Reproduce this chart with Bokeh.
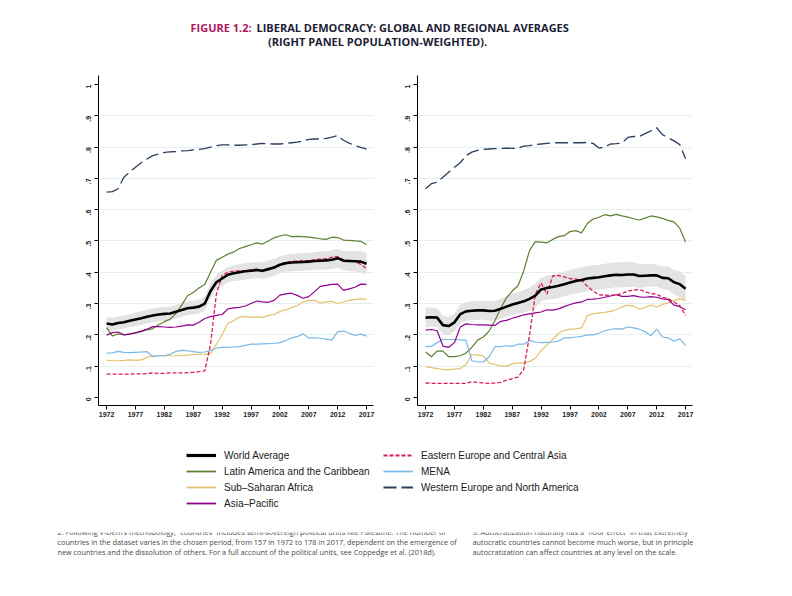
import math
from bokeh.plotting import figure
from bokeh.models import Range1d, FixedTicker, Legend, LegendItem, Label
from bokeh.layouts import column, row
from bokeh.embed import file_html
from bokeh.resources import INLINE

# ---- data -------------------------------------------------------------
years = list(range(1972, 2018))
x_ticks = list(range(1972, 2018, 5))
y_ticks = [0, 0.1, 0.2, 0.3, 0.4, 0.5, 0.6, 0.7, 0.8, 0.9, 1]
y_tick_labels = {0: "0", 0.1: ".1", 0.2: ".2", 0.3: ".3", 0.4: ".4", 0.5: ".5",
                 0.6: ".6", 0.7: ".7", 0.8: ".8", 0.9: ".9", 1: "1"}
grid_ticks = [0.1, 0.2, 0.3, 0.4, 0.5, 0.6, 0.7, 0.8, 0.9]

# left panel: simple averages
world_left = [.236, .233, .238, .240, .245, .249, .253, .258, .262, .265,
              .267, .268, .274, .279, .285, .287, .290, .300, .340, .368,
              .380, .392, .397, .400, .403, .405, .407, .405, .410, .415,
              .424, .429, .431, .432, .433, .434, .436, .437, .438, .440,
              .445, .437, .436, .435, .434, .427]
world_ci_left = [.021, .021, .021, .021, .021, .022, .022, .022, .022, .022,
                 .022, .022, .022, .022, .022, .022, .022, .022, .023, .024,
                 .025, .025, .025, .026, .026, .026, .026, .026, .027, .027,
                 .027, .027, .028, .028, .028, .028, .028, .029, .029, .030,
                 .030, .031, .032, .033, .034, .035]
latam_left = [.223, .196, .203, .200, .203, .206, .210, .216, .220, .232,
              .242, .250, .268, .295, .325, .335, .350, .362, .400, .438,
              .448, .458, .465, .476, .482, .488, .494, .490, .500, .510,
              .516, .520, .514, .515, .514, .512, .510, .507, .505, .512,
              .511, .503, .502, .500, .499, .488]
ssa_left = [.119, .117, .117, .118, .120, .118, .120, .128, .133, .133,
            .133, .133, .133, .133, .135, .137, .137, .138, .140, .170,
            .200, .236, .245, .257, .258, .256, .258, .255, .262, .265,
            .275, .280, .287, .293, .305, .310, .310, .302, .305, .307,
            .300, .305, .310, .313, .315, .313]
asia_left = [.199, .207, .209, .200, .202, .206, .212, .218, .226, .226,
             .225, .224, .225, .228, .232, .231, .240, .252, .258, .262,
             .265, .283, .286, .288, .292, .300, .308, .305, .304, .310,
             .327, .331, .333, .326, .317, .322, .338, .355, .358, .361,
             .362, .342, .347, .352, .362, .361]
eeca_left = [.074, .074, .074, .074, .074, .075, .075, .076, .078, .077,
             .077, .078, .078, .078, .079, .080, .082, .085, .170, .330,
             .390, .400, .403, .405, .405, .408, .410, .402, .410, .418,
             .425, .432, .434, .436, .437, .437, .440, .442, .443, .448,
             .450, .440, .437, .435, .425, .412]
mena_left = [.141, .142, .147, .144, .143, .144, .145, .146, .130, .133,
             .133, .138, .147, .150, .149, .146, .144, .145, .150, .157,
             .160, .160, .161, .162, .166, .170, .170, .171, .172, .173,
             .175, .182, .190, .194, .203, .190, .190, .189, .186, .183,
             .210, .212, .205, .198, .202, .196]
wena_left = [.656, .658, .667, .704, .720, .736, .750, .762, .773, .778,
             .783, .785, .786, .788, .789, .791, .793, .795, .800, .805,
             .807, .807, .806, .806, .807, .808, .810, .812, .811, .810,
             .810, .812, .814, .816, .820, .825, .826, .826, .828, .832,
             .837, .822, .813, .805, .799, .794]

# right panel: population-weighted averages
world_right = [.255, .256, .255, .231, .228, .240, .266, .275, .277, .278,
               .278, .276, .277, .283, .290, .297, .302, .307, .315, .325,
               .345, .350, .353, .357, .362, .367, .372, .375, .380, .382,
               .384, .387, .390, .392, .391, .393, .393, .388, .389, .390,
               .390, .382, .381, .368, .362, .347]
world_ci_right = [.032, .031, .030, .030, .029, .029, .030, .030, .030, .030,
                  .030, .031, .031, .032, .033, .034, .035, .036, .037, .038,
                  .038, .038, .039, .039, .039, .040, .040, .040, .040, .040,
                  .040, .040, .040, .040, .040, .040, .039, .038, .037, .036,
                  .035, .036, .037, .039, .040, .042]
latam_right = [.145, .130, .148, .148, .130, .130, .133, .142, .160, .183,
               .193, .212, .245, .285, .318, .340, .357, .405, .470, .498,
               .496, .494, .505, .514, .517, .530, .533, .526, .556, .570,
               .576, .584, .580, .585, .580, .576, .571, .567, .573, .580,
               .577, .572, .566, .561, .540, .497]
ssa_right = [.098, .095, .092, .089, .089, .090, .092, .105, .137, .135,
             .133, .110, .105, .100, .100, .107, .110, .110, .115, .125,
             .150, .168, .185, .205, .214, .218, .219, .222, .262, .267,
             .270, .272, .275, .280, .290, .294, .292, .282, .288, .295,
             .289, .297, .302, .310, .315, .310]
asia_right = [.215, .217, .213, .164, .160, .175, .225, .235, .233, .232,
              .232, .231, .230, .243, .246, .253, .258, .264, .267, .270,
              .273, .280, .279, .283, .290, .297, .302, .305, .313, .314,
              .316, .320, .324, .328, .323, .323, .325, .321, .320, .322,
              .320, .315, .313, .295, .290, .280]
eeca_right = [.046, .045, .045, .045, .045, .045, .045, .045, .050, .048,
              .046, .045, .046, .048, .055, .060, .065, .090, .200, .330,
              .366, .330, .388, .390, .385, .380, .378, .375, .355, .340,
              .328, .327, .326, .328, .332, .340, .343, .345, .338, .332,
              .330, .320, .315, .305, .293, .262]
mena_right = [.162, .163, .175, .185, .185, .185, .184, .182, .117, .113,
              .113, .130, .162, .162, .165, .163, .170, .170, .182, .177,
              .175, .176, .177, .180, .190, .190, .193, .195, .200, .200,
              .205, .213, .217, .220, .218, .225, .222, .218, .210, .197,
              .218, .193, .190, .180, .187, .166]
wena_right = [.667, .683, .688, .704, .720, .736, .750, .773, .784, .790,
              .793, .794, .795, .796, .797, .796, .797, .803, .805, .808,
              .810, .812, .814, .814, .814, .814, .814, .814, .815, .812,
              .797, .800, .810, .811, .813, .831, .834, .834, .843, .852,
              .862, .840, .830, .820, .808, .763]

region_names = ["World Average", "Latin America and the Caribbean",
                "Sub\u2013Saharan Africa", "Asia\u2013Pacific",
                "Eastern Europe and Central Asia", "MENA",
                "Western Europe and North America"]

# ---- styles -----------------------------------------------------------
styles = {
    "World Average": dict(color="black", width=2.6, dash="solid"),
    "Latin America and the Caribbean": dict(color="#5d7f35", width=1.2, dash="solid"),
    "Sub\u2013Saharan Africa": dict(color="#e2c26c", width=1.2, dash="solid"),
    "Asia\u2013Pacific": dict(color="#92008f", width=1.2, dash="solid"),
    "Eastern Europe and Central Asia": dict(color="#d81e4f", width=1.3, dash="4 2"),
    "MENA": dict(color="#7ab8e6", width=1.2, dash="solid"),
    "Western Europe and North America": dict(color="#2c3d5e", width=1.3, dash="13 5"),
}
TICK_FONT = "Liberation Sans"


def make_panel(world, ci, latam, ssa, asia, eeca, mena, wena, width, border_left, border_right):
    """
    Build one panel with the world band and the regional lines.
    """
    p = figure(width=width, height=370, toolbar_location=None, output_backend="svg",
               x_range=Range1d(1970.6, 2018.2), y_range=Range1d(-0.026, 1.029),
               min_border_left=border_left, min_border_right=border_right,
               min_border_top=20, min_border_bottom=20)
    p.outline_line_color = None
    p.background_fill_color = "white"

    # grid only on the inner y ticks
    p.xgrid.visible = False
    p.ygrid.ticker = FixedTicker(ticks=grid_ticks)
    p.ygrid.grid_line_color = "#e6eef0"
    p.ygrid.grid_line_width = 1

    for ax in (p.xaxis, p.yaxis):
        ax.axis_line_color = "black"
        ax.major_tick_line_color = "black"
        ax.major_tick_in = 0
        ax.major_tick_out = 4
        ax.minor_tick_line_color = None
        ax.major_label_text_font = TICK_FONT
        ax.major_label_text_font_size = "7px"
        ax.major_label_text_font_style = "bold"
        ax.major_label_text_color = "#222222"
    p.xaxis.major_label_standoff = 2
    p.yaxis.major_label_standoff = 6

    p.xaxis.ticker = FixedTicker(ticks=x_ticks)
    p.yaxis.ticker = FixedTicker(ticks=y_ticks)
    p.yaxis.major_label_overrides = y_tick_labels
    p.yaxis.major_label_orientation = math.pi / 2

    # confidence band of the world average
    lo = [w - c for w, c in zip(world, ci)]
    hi = [w + c for w, c in zip(world, ci)]
    p.varea(x=years, y1=lo, y2=hi, fill_color="#e3e3e3")

    order = [("Western Europe and North America", wena),
             ("Latin America and the Caribbean", latam),
             ("Sub\u2013Saharan Africa", ssa),
             ("MENA", mena),
             ("Asia\u2013Pacific", asia),
             ("Eastern Europe and Central Asia", eeca),
             ("World Average", world)]
    for name, vals in order:
        s = styles[name]
        p.line(years, vals, line_color=s["color"], line_width=s["width"],
               line_dash=s["dash"])
    return p


def blank_figure(width, height):
    f = figure(width=width, height=height, toolbar_location=None, output_backend="svg",
               x_range=Range1d(0, width), y_range=Range1d(0, height),
               x_axis_location=None, y_axis_location=None, min_border=0)
    f.grid.visible = False
    f.outline_line_color = None
    return f


# ---- title ------------------------------------------------------------
title = blank_figure(780, 55)
title_font = "Open Sans"
title_kw = dict(x_units="screen", y_units="screen", text_font=title_font,
                text_font_style="bold", text_font_size="11px", text_baseline="middle")
title.add_layout(Label(x=190, y=28, text="FIGURE 1.2:", text_color="#b0175f", **title_kw))
title.add_layout(Label(x=256, y=28, text="LIBERAL DEMOCRACY: GLOBAL AND REGIONAL AVERAGES",
                       text_color="#1d1d35", **title_kw))
title.add_layout(Label(x=377, y=14, text="(RIGHT PANEL POPULATION-WEIGHTED).",
                       text_color="#1d1d35", text_align="center", **title_kw))

# ---- panels -----------------------------------------------------------
left = make_panel(world_left, world_ci_left, latam_left, ssa_left, asia_left,
                  eeca_left, mena_left, wena_left, 390, 98, 17)
right = make_panel(world_right, world_ci_right, latam_right, ssa_right, asia_right,
                   eeca_right, mena_right, wena_right, 390, 27, 88)

# ---- legend -----------------------------------------------------------
leg = blank_figure(780, 107)
items = {}
for name in region_names:
    s = styles[name]
    # a stub line outside the visible range, only used to draw the legend key
    r = leg.line([-60, -50], [-60, -60], line_color=s["color"],
                 line_width=s["width"] + 0.6, line_dash=s["dash"])
    items[name] = LegendItem(label=name, renderers=[r])

legend_kw = dict(orientation="vertical", glyph_width=30, glyph_height=16,
                 label_height=16, spacing=0, padding=0, margin=0, label_standoff=8,
                 border_line_color=None, background_fill_alpha=0,
                 label_text_font="Liberation Sans", label_text_font_size="10px",
                 label_text_color="#1a1a1a")
leg.add_layout(Legend(items=[items[n] for n in region_names[:4]],
                      location=(186, 21), **legend_kw))
leg.add_layout(Legend(items=[items[n] for n in region_names[4:]],
                      location=(383, 37), **legend_kw))

# ---- footnotes (top line is cut by the page) --------------------------
foot = blank_figure(780, 56)
foot_left = [
    "2. Following V-Dem\u2019s methodology, \u201ccountries\u201d includes semi-sovereign political units like Palestine. The number of",
    "countries in the dataset varies in the chosen period, from 157 in 1972 to 178 in 2017, dependent on the emergence of",
    "new countries and the dissolution of others. For a full account of the political units, see Coppedge et al. (2018d).",
]
foot_right = [
    "3. Autocratization naturally has a \u201cfloor effect\u201d in that extremely",
    "autocratic countries cannot become much worse, but in principle",
    "autocratization can affect countries at any level on the scale.",
]
for i, (tl, tr) in enumerate(zip(foot_left, foot_right)):
    y = 56.3 - 10 * i
    for x, t in ((57, tl), (472, tr)):
        foot.add_layout(Label(x=x, y=y, x_units="screen", y_units="screen", text=t,
                              text_font="Open Sans", text_font_size="7.3px",
                              text_color="#4a4a4c", text_baseline="middle"))

page = column(title, row(left, right), leg, foot)
open("out.html", "w").write(file_html(page, INLINE))
